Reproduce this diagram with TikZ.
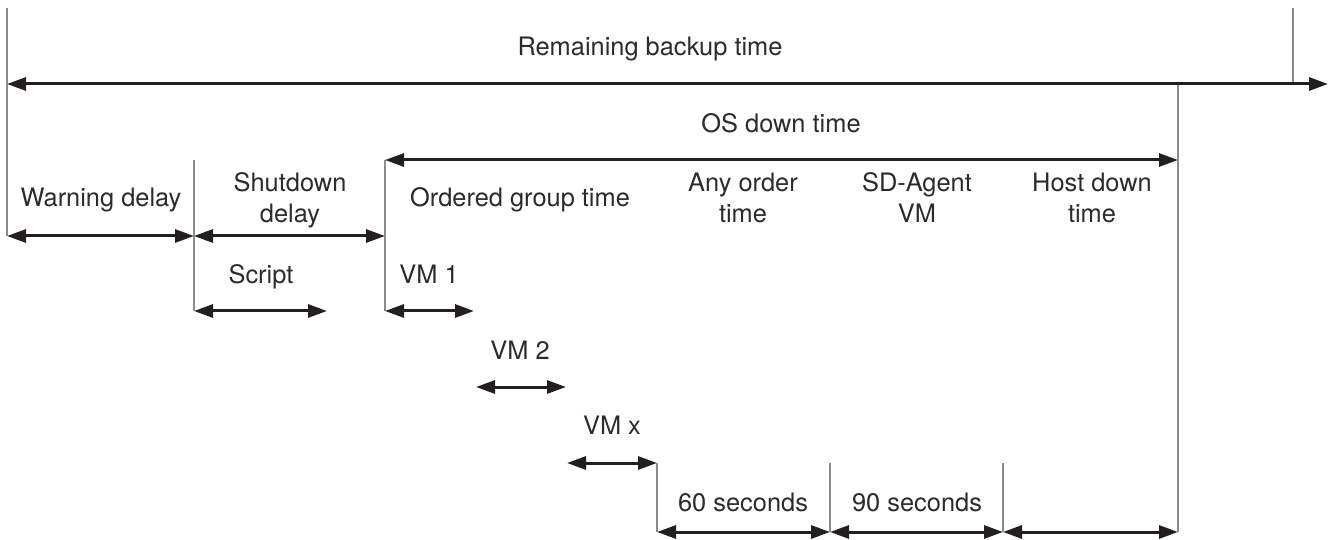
\documentclass[tikz,border=0pt]{standalone}
\usepackage{fontspec}
\setmainfont{TeX Gyre Heros}
\usepackage{tikz}
\usetikzlibrary{arrows.meta}
\definecolor{ink}{HTML}{231F20}
\definecolor{txt}{HTML}{2B2B2B}
\tikzset{
  span/.style={{Triangle[length=9.5pt,width=6.5pt]}-{Triangle[length=9.5pt,width=6.5pt]}, line width=1.5pt, draw=ink},
  tick/.style={draw=gray!90, line width=0.6pt},
  lbl/.style={text=txt, align=center, anchor=base, inner sep=0pt,
    font=\fontsize{12.7}{16}\selectfont}
}

\begin{document}
\begin{tikzpicture}[x=0.5pt,y=-0.5pt]
\useasboundingbox (0,0) rectangle (1330,540);
% time marks
\coordinate (t0) at (7,84);
\coordinate (tend) at (1328,84);
\coordinate (os0) at (385,160);
\coordinate (os1) at (1178,160);
% thin marker lines
\draw[tick] (7,8) -- (7,236);
\draw[tick] (1293,8) -- (1293,84);
\draw[tick] (1178,84) -- (1178,532);
\draw[tick] (194,160) -- (194,311);
\draw[tick] (385,160) -- (385,311);
\foreach \x in {657,830,1003}
\draw[tick] (\x,463) -- (\x,532);
% spans
\draw[span] (t0) -- (tend);
\draw[span] (os0) -- (os1);
\draw[span] (7,236) -- (194,236);
\draw[span] (194,236) -- (385,236);
\draw[span] (194,311) -- (327,311);
\draw[span] (385,311) -- (474,311);
\draw[span] (476,387) -- (566,387);
\draw[span] (567,463) -- (657,463);
\draw[span] (657,532) -- (830,532);
\draw[span] (830,532) -- (1003,532);
\draw[span] (1003,532) -- (1178,532);
% labels
\node[lbl] (backup) at (650,56) {Remaining backup time};
\node[lbl] (osdown) at (781,133) {OS down time};
\node[lbl] (warn) at (101,207) {Warning delay};
\node[lbl] (shut) at (290,223) {Shutdown\\delay};
\node[lbl] (ordered) at (520,206) {Ordered group time};
\node[lbl] (anyorder) at (743,223) {Any order\\time};
\node[lbl] (sdagent) at (917,223) {SD-Agent\\VM};
\node[lbl] (hostdown) at (1092,223) {Host down\\time};
\node[lbl] (script) at (261,284) {Script};
\node[lbl] (vmone) at (429,284) {VM 1};
\node[lbl] (vmtwo) at (520,359) {VM 2};
\node[lbl] (vmx) at (612,434) {VM x};
\node[lbl] (sixty) at (743,511) {60 seconds};
\node[lbl] (ninety) at (917,511) {90 seconds};
\end{tikzpicture}
\end{document}
